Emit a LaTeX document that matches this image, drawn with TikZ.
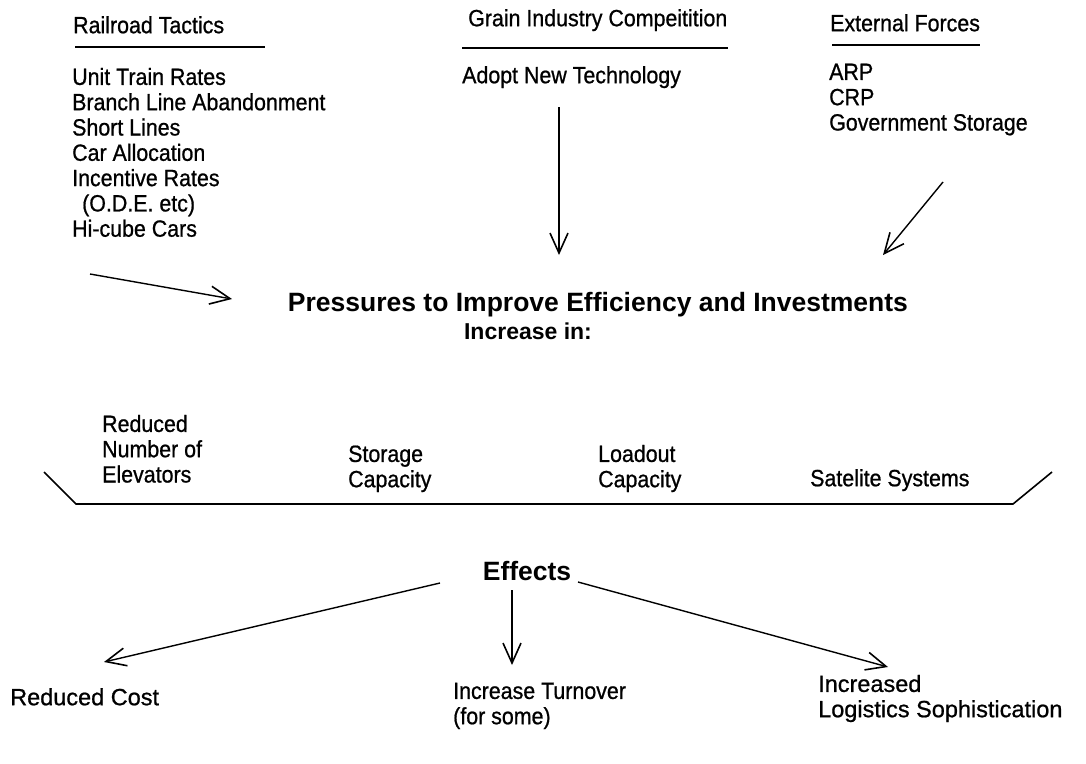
\documentclass[tikz,border=0pt]{standalone}
\usepackage{fontspec}
\setmainfont{Liberation Sans}[FakeStretch=0.91, FakeBold=0.8]
\newfontfamily\boldfont{Liberation Sans}
\newfontfamily\widefont{Liberation Sans}[FakeBold=0.8]
\usetikzlibrary{arrows.meta}

\begin{document}
\begin{tikzpicture}[x=1pt, y=-1pt,
    listtext/.style={inner sep=0pt, font=\fontsize{23.5}{25.3}\selectfont},
    boldtext/.style={inner sep=0pt, font=\boldfont\bfseries\fontsize{26.5}{28}\selectfont},
    headrule/.style={line width=2pt},
    pusharrow/.style={line width=1.4pt, -{Straight Barb[length=20pt, width=18pt, line width=1.6pt]}}]
  \useasboundingbox (0,0) rectangle (1086,763);

  % three sources of pressure
  \node (rail) [listtext, anchor=north west] at (73, 16) {Railroad Tactics};
  \node (grain) [listtext, anchor=north west] at (468, 9) {Grain Industry Compeitition};
  \node (ext) [listtext, anchor=north west] at (830, 14) {External Forces};
  \draw[headrule] (75, 47) -- (265, 47);
  \draw[headrule] (462, 48) -- (728, 48);
  \draw[headrule] (832, 45) -- (980, 45);

  \node (tactics) [listtext, anchor=north west] at (72, 67) {
    \begin{tabular}{@{}l@{}}
      Unit Train Rates \\
      Branch Line Abandonment \\
      Short Lines \\
      Car Allocation \\
      Incentive Rates \\
      \hspace*{10pt}(O.D.E. etc) \\
      Hi-cube Cars
    \end{tabular}
  };
  \node (tech) [listtext, anchor=north west] at (462, 66) {Adopt New Technology};
  \node (forces) [listtext, anchor=north west] at (829, 62) {
    \begin{tabular}{@{}l@{}}
      ARP \\
      CRP \\
      Government Storage
    \end{tabular}
  };

  \node (press) [boldtext, anchor=base] at (598, 311) {Pressures to Improve Efficiency and Investments};
  \node (incr) [boldtext, font=\boldfont\bfseries\fontsize{23}{25}\selectfont, anchor=base] at (528, 339) {Increase in:};

  \coordinate (railout) at (90, 274);
  \coordinate (railin) at (232, 299);
  \coordinate (techout) at (559, 107);
  \coordinate (techin) at (559, 255);
  \coordinate (extout) at (943, 182);
  \coordinate (extin) at (883, 255);
  \draw[pusharrow] (railout) -- (railin);
  \draw[pusharrow] (techout) -- (techin);
  \draw[pusharrow] (extout) -- (extin);

  % what increases
  \node (elev) [listtext, anchor=north west] at (102, 414) {
    \begin{tabular}{@{}l@{}}
      Reduced \\
      Number of \\
      Elevators
    \end{tabular}
  };
  \node (store) [listtext, anchor=north west] at (348, 444) {
    \begin{tabular}{@{}l@{}}
      Storage \\
      Capacity
    \end{tabular}
  };
  \node (load) [listtext, anchor=north west] at (598, 444) {
    \begin{tabular}{@{}l@{}}
      Loadout \\
      Capacity
    \end{tabular}
  };
  \node (sat) [listtext, anchor=north west] at (810, 469) {Satelite Systems};
  \draw[headrule, line width=1.6pt] (44, 472) -- (76, 504) -- (1013, 504) -- (1052, 472);

  % effects
  \node (eff) [boldtext, anchor=base] at (527, 580) {Effects};
  \node (cost) [listtext, font=\widefont\fontsize{23.5}{25.3}\selectfont, anchor=north west] at (10, 688) {Reduced Cost};
  \node (turn) [listtext, anchor=north west] at (453, 681) {
    \begin{tabular}{@{}l@{}}
      Increase Turnover \\
      (for some)
    \end{tabular}
  };
  \node (logi) [listtext, font=\widefont\fontsize{23.5}{25.3}\selectfont, anchor=north west] at (818, 674) {
    \begin{tabular}{@{}l@{}}
      Increased \\
      Logistics Sophistication
    \end{tabular}
  };

  \coordinate (effleft) at (440, 583);
  \coordinate (costin) at (104, 662);
  \coordinate (effmid) at (512, 590);
  \coordinate (turnin) at (512, 665);
  \coordinate (effright) at (578, 582);
  \coordinate (logiin) at (888, 667);
  \draw[pusharrow] (effleft) -- (costin);
  \draw[pusharrow] (effmid) -- (turnin);
  \draw[pusharrow] (effright) -- (logiin);
\end{tikzpicture}
\end{document}
